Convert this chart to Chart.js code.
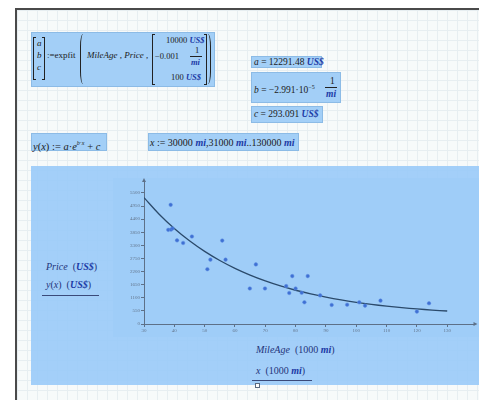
<!DOCTYPE html>
<html>
<head>
<meta charset="utf-8">
<script src="https://cdn.jsdelivr.net/npm/chart.js@4/dist/chart.umd.min.js"></script>
<style>
  html, body { margin: 0; padding: 0; }
  body {
    width: 479px; height: 400px; position: relative; overflow: hidden;
    background: #ffffff;
    font-family: 'Liberation Serif', serif; font-size: 9px; color: #1b1b1b;
  }
  #sheet {
    position: absolute; left: 15px; top: 8px; width: 470px; height: 400px;
    border-left: 2px solid #4a4a4a; border-top: 2px solid #4a4a4a;
    background-color: #f7fafa;
    background-image:
      linear-gradient(to right, #e7eef1 1px, transparent 1px),
      linear-gradient(to bottom, #e7eef1 1px, transparent 1px);
    background-size: 10px 10px;
  }
  .box { position: absolute; background: #a3cff7; border: 1px solid #8cbbe6; box-sizing: border-box; }
  .t { position: absolute; white-space: nowrap; line-height: 10px; }
  .i { font-style: italic; }
  .u { font-style: italic; font-weight: bold; color: #1c3aa6; }
  .lb { position: absolute; border: 1px solid #222; border-right: none; width: 2px; }
  .rb { position: absolute; border: 1px solid #222; border-left: none; width: 2px; }
  .lp { position: absolute; border-left: 1px solid #222; border-radius: 100% / 50%; width: 5px; }
  .rp { position: absolute; border-right: 1px solid #222; border-radius: 100% / 50%; width: 5px; }
  .bar { position: absolute; height: 0; border-top: 1px solid #222; }
  .big { font-size: 10.5px; }
  .res { font-size: 9.5px; }
  #plotBox { position: absolute; left: 31px; top: 166px; width: 448px; height: 219px; background: rgba(155, 203, 248, 0.92); }
  #plotInner { position: absolute; left: 113px; top: 178px; width: 366px; height: 159px; background: #9fcdf8; }
  #wrap { position: absolute; left: 113px; top: 175px; width: 366px; height: 165px; }
  .ax { font-size: 10px; color: #23347a; }
</style>
</head>
<body>
<div id="sheet"></div>

<!-- expfit definition -->
<div class="box" style="left:31px;top:32px;width:184px;height:55px;"></div>
<div class="lb" style="left:33px;top:37px;height:41px;"></div>
<div class="t i" style="left:37px;top:38px;">a</div>
<div class="t i" style="left:37px;top:50px;">b</div>
<div class="t i" style="left:37px;top:62px;">c</div>
<div class="rb" style="left:42px;top:37px;height:41px;"></div>
<div class="t" style="left:47px;top:50px;">:=expfit</div>
<div class="lp" style="left:80px;top:34px;height:50px;"></div>
<div class="t" style="left:87px;top:50px;"><span class="i">MileAge</span> , <span class="i">Price</span> ,</div>
<div class="lb" style="left:152px;top:34px;height:49px;"></div>
<div class="t" style="left:166px;top:35px;font-size:8.5px;">10000 <span class="u">US$</span></div>
<div class="t" style="left:155px;top:51px;font-size:8.5px;">&minus;0.001</div>
<div class="t" style="left:195px;top:45px;font-size:8.5px;">1</div>
<div class="bar" style="left:190px;top:56px;width:12px;"></div>
<div class="t u" style="left:191px;top:57px;font-size:8.5px;">mi</div>
<div class="t" style="left:171px;top:72px;font-size:8.5px;">100 <span class="u">US$</span></div>
<div class="rb" style="left:204px;top:34px;height:49px;"></div>
<div class="rp" style="left:205px;top:34px;height:50px;"></div>

<!-- results -->
<div class="box" style="left:251px;top:56px;width:71px;height:12px;"></div>
<div class="t res" style="left:254px;top:57px;"><span class="i">a</span> = 12291.48 <span class="u">US$</span></div>
<div class="box" style="left:251px;top:72px;width:90px;height:31px;"></div>
<div class="t res" style="left:254px;top:82px;"><span class="i">b</span> = &minus;2.991&middot;10<sup style="font-size:6px;">&minus;5</sup></div>
<div class="t res" style="left:330px;top:76px;">1</div>
<div class="bar" style="left:325px;top:87px;width:12px;"></div>
<div class="t u res" style="left:326px;top:89px;">mi</div>
<div class="box" style="left:251px;top:106px;width:72px;height:17px;"></div>
<div class="t res" style="left:254px;top:109px;"><span class="i">c</span> = 293.091 <span class="u">US$</span></div>

<!-- model and range -->
<div class="box" style="left:31px;top:133px;width:76px;height:18px;"></div>
<div class="t big" style="left:33px;top:138px;"><span class="i">y</span>(<span class="i">x</span>) := <span class="i">a</span>&middot;<span class="i">e</span><sup style="font-size:6px;"><span class="i">b</span>&middot;<span class="i">x</span></sup> + <span class="i">c</span></div>
<div class="box" style="left:148px;top:133px;width:151px;height:18px;"></div>
<div class="t" style="left:150px;top:138px;font-size:10px;"><span class="i">x</span> := 30000 <span class="u">mi</span>,31000 <span class="u">mi</span>..130000 <span class="u">mi</span></div>

<!-- plot -->
<div id="plotBox"></div>
<div id="plotInner"></div>
<div id="wrap"><canvas id="fitChart"></canvas></div>

<div class="t ax" style="left:46px;top:262px;"><span class="i">Price</span> &nbsp;(<span class="u">US$</span>)</div>
<div class="t ax" style="left:46px;top:280px;"><span class="i">y</span>(<span class="i">x</span>) &nbsp;(<span class="u">US$</span>)</div>
<div class="bar" style="left:42px;top:295px;width:57px;border-color:#3a4a7a;"></div>
<div class="t ax" style="left:256px;top:345px;"><span class="i">MileAge</span> &nbsp;(1000 <span class="u">mi</span>)</div>
<div class="t ax" style="left:256px;top:366px;"><span class="i">x</span> &nbsp;(1000 <span class="u">mi</span>)</div>
<div class="bar" style="left:252px;top:380px;width:60px;border-color:#3a4a7a;"></div>
<div style="position:absolute;left:255px;top:383px;width:3px;height:3px;border:1px solid #5a6a80;background:#fff;"></div>

<script>
// observed data (MileAge in 1000 mi, Price in US$)
const mileage = [38.8, 38.0, 38.9, 39.4, 40.9, 42.9, 45.8, 50.9, 51.9, 55.8, 56.9,
  64.9, 66.9, 69.9, 76.9, 77.9, 78.9, 80.0, 82.0, 82.9, 84.0, 88.1, 91.9, 97.0,
  101.0, 102.9, 108.0, 120.0, 124.0];
const price = [5000, 3950, 3960, 4010, 3510, 3400, 3670, 2300, 2700, 3500, 2700,
  1490, 2500, 1490, 1590, 1300, 2010, 1490, 1310, 910, 2010, 1200, 800, 810,
  910, 770, 980, 520, 870];

// fitted curve y(x), read along x
const curveX = [30, 35, 40, 45, 50, 55, 60, 65, 70, 75, 80, 85, 90, 95, 100, 105, 110, 115, 120, 125, 130];
const curveY = [5304, 4608, 4008, 3492, 3048, 2665, 2336, 2052, 1808, 1597, 1416,
  1260, 1126, 1010, 911, 825, 751, 687, 633, 585, 545];

const xTicks = [30, 40, 50, 60, 70, 80, 90, 100, 110, 120, 130];
const yTicks = [0, 550, 1100, 1650, 2200, 2750, 3300, 3850, 4400, 4950, 5500];

const axisColor = '#5d7088';
const tickColor = '#63758c';

// little arrow heads at the axis ends
const axisArrows = {
  id: 'axisArrows',
  afterDraw(chart) {
    const { ctx, chartArea } = chart;
    ctx.save();
    ctx.fillStyle = axisColor;
    ctx.beginPath();
    ctx.moveTo(chartArea.left, chartArea.top - 3);
    ctx.lineTo(chartArea.left - 2, chartArea.top + 1);
    ctx.lineTo(chartArea.left + 2, chartArea.top + 1);
    ctx.fill();
    ctx.beginPath();
    ctx.moveTo(chartArea.right + 3, chartArea.bottom);
    ctx.lineTo(chartArea.right - 1, chartArea.bottom - 2);
    ctx.lineTo(chartArea.right - 1, chartArea.bottom + 2);
    ctx.fill();
    ctx.restore();
  }
};

new Chart(document.getElementById('fitChart'), {
  type: 'scatter',
  data: {
    datasets: [{
      label: 'Price',
      data: mileage.map((m, i) => ({ x: m, y: price[i] })),
      backgroundColor: '#3f70d4',
      borderColor: '#5f8ee0',
      borderWidth: 0.5,
      pointRadius: 1.8
    }, {
      label: 'y(x)',
      type: 'line',
      data: curveX.map((x, i) => ({ x: x, y: curveY[i] })),
      borderColor: '#2b4a6b',
      borderWidth: 1.3,
      pointRadius: 0,
      tension: 0.4,
      fill: false
    }]
  },
  options: {
    responsive: true,
    maintainAspectRatio: false,
    animation: false,
    layout: { padding: { top: 6, right: 4, left: 0, bottom: 0 } },
    plugins: { legend: { display: false }, tooltip: { enabled: false } },
    scales: {
      x: {
        type: 'linear', min: 30, max: 139,
        afterFit: s => { s.height = 16; },
        afterBuildTicks: s => { s.ticks = xTicks.map(v => ({ value: v })); },
        border: { display: true, color: axisColor, width: 1 },
        grid: { display: true, drawOnChartArea: false, drawTicks: true, tickLength: 3, color: axisColor },
        ticks: { color: tickColor, font: { family: 'Liberation Serif', size: 5 }, padding: 1, maxRotation: 0, callback: v => String(v) }
      },
      y: {
        min: 0, max: 6000,
        afterFit: s => { s.width = 31; },
        afterBuildTicks: s => { s.ticks = yTicks.map(v => ({ value: v })); },
        border: { display: true, color: axisColor, width: 1 },
        grid: { display: true, drawOnChartArea: false, drawTicks: true, tickLength: 3, color: axisColor },
        ticks: { color: tickColor, font: { family: 'Liberation Serif', size: 5 }, padding: 1, callback: v => String(v) }
      }
    }
  },
  plugins: [axisArrows]
});
</script>
</body>
</html>
